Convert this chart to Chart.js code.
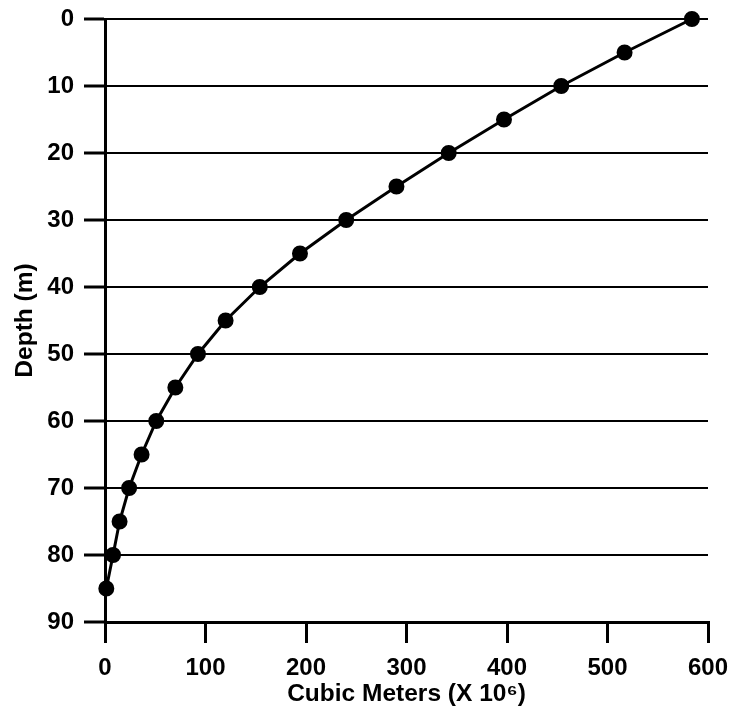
<!DOCTYPE html>
<html lang="en">
<head>
    <meta charset="UTF-8">
    <title>Depth vs Cubic Meters</title>
    <script src="https://cdn.jsdelivr.net/npm/chart.js@4.4.0/dist/chart.umd.min.js"></script>
    <style>
        body { margin: 0; background: #fff; }
    </style>
</head>
<body>
    <canvas id="graph" width="730" height="711"></canvas>
    <script>
        // depth in metres and cumulative volume (x 10^6 m3)
        const depth = [0, 5, 10, 15, 20, 25, 30, 35, 40, 45, 50, 55, 60, 65, 70, 75, 80, 85];
        const volume = [584, 517, 454, 397, 342, 290, 240, 194, 154, 120, 92.5, 70, 51, 36.4, 24, 14.5, 8, 1.3];
        const xTicks = [0, 100, 200, 300, 400, 500, 600];
        const yTicks = [0, 10, 20, 30, 40, 50, 60, 70, 80, 90];

        const points = [];
        for (let i = 0; i < depth.length; i++) {
            points.push({ x: volume[i], y: depth[i] });
        }

        const tickFont = { family: '"Liberation Sans", Arial, sans-serif', size: 24, weight: 'bold' };
        const titleFont = { family: '"Liberation Sans", Arial, sans-serif', size: 24.5, weight: 'bold' };

        const ctx = document.getElementById('graph').getContext('2d');
        const myChart = new Chart(ctx, {
            type: 'line',
            data: {
                datasets: [{
                    data: points,
                    borderColor: '#000',
                    backgroundColor: '#000',
                    borderWidth: 3,
                    pointRadius: 6.5,
                    pointHoverRadius: 6.5,
                    tension: 0,
                    fill: false,
                    clip: false
                }]
            },
            options: {
                responsive: false,
                animation: false,
                layout: { padding: { top: 19, right: 22, left: 0, bottom: 0 } },
                plugins: { legend: { display: false }, tooltip: { enabled: false } },
                scales: {
                    x: {
                        type: 'linear',
                        min: xTicks[0],
                        max: xTicks[xTicks.length - 1],
                        afterBuildTicks: s => { s.ticks = xTicks.map(v => ({ value: v })); },
                        afterFit: s => { s.height = 89; s.paddingLeft = 0; s.paddingRight = 0; },
                        grid: { drawOnChartArea: false, color: '#000', tickLength: 21, tickWidth: 3, lineWidth: 3 },
                        border: { color: '#000', width: 3 },
                        ticks: { color: '#000', font: tickFont, padding: 11, maxRotation: 0 },
                        title: { display: true, text: 'Cubic Meters (X 10\u2076)', color: '#000', font: titleFont, padding: { top: 0, bottom: 2 } }
                    },
                    y: {
                        type: 'linear',
                        reverse: true,
                        min: yTicks[0],
                        max: yTicks[yTicks.length - 1],
                        afterBuildTicks: s => { s.ticks = yTicks.map(v => ({ value: v })); },
                        afterFit: s => { s.width = 105; s.paddingTop = 0; s.paddingBottom = 0; },
                        grid: { color: '#000', lineWidth: 2, tickLength: 21, tickWidth: 3 },
                        border: { color: '#000', width: 3 },
                        ticks: { color: '#000', font: tickFont, padding: 10 },
                        title: { display: true, text: 'Depth (m)', color: '#000', font: titleFont, padding: { top: 11, bottom: 0 } }
                    }
                }
            }
        });
    </script>
</body>
</html>
